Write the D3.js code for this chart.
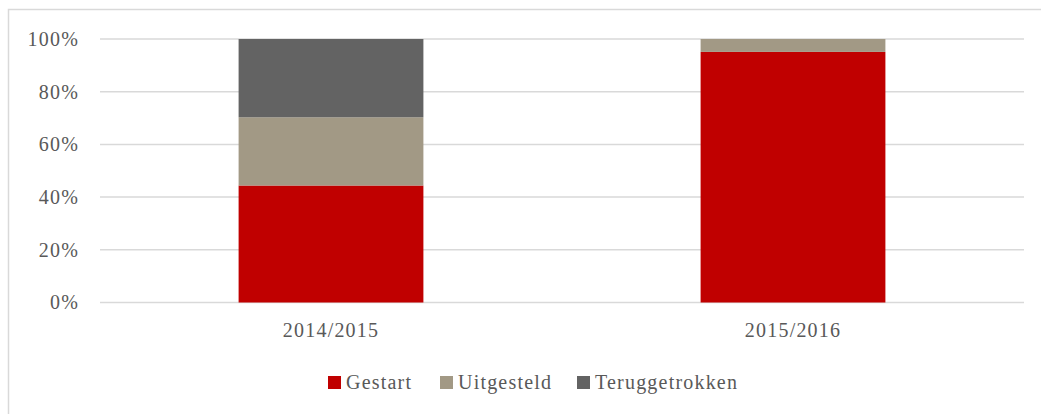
<!DOCTYPE html>
<html>
<head>
<meta charset="utf-8">
<script src="https://cdn.jsdelivr.net/npm/d3@7/dist/d3.min.js"></script>
<style>
  html, body { margin: 0; padding: 0; background: #fff; }
  svg { display: block; }
  text { font-family: "Liberation Serif", "Times New Roman", serif; fill: #595959; }
</style>
</head>
<body>
<svg id="chart" width="1041" height="414"></svg>
<script>
const categories = ["2014/2015", "2015/2016"];
const seriesNames = ["Gestart", "Uitgesteld", "Teruggetrokken"];
const gestart = [0.444, 0.951];
const uitgesteld = [0.259, 0.049];
const teruggetrokken = [0.297, 0.0];
const seriesColors = ["#c00000", "#a29985", "#636363"];
const yTicks = [0, 0.2, 0.4, 0.6, 0.8, 1.0];

const svg = d3.select("#chart");
const W = 1041, H = 414;
const margin = { left: 100, right: 17, top: 39, bottom: 111.5 };
const plotW = W - margin.left - margin.right;
const plotH = H - margin.top - margin.bottom;

// outer border (chart area)
svg.append("rect")
  .attr("x", 8.5).attr("y", 9.5)
  .attr("width", W + 10).attr("height", H + 10)
  .attr("fill", "none").attr("stroke", "#d9d9d9").attr("stroke-width", 1.5);

const g = svg.append("g").attr("transform", `translate(${margin.left},${margin.top})`);

const x = d3.scaleBand().domain(categories).range([0, plotW]).paddingInner(0.6).paddingOuter(0.3);
const y = d3.scaleLinear().domain([0, 1]).range([plotH, 0]);

// gridlines
g.append("g").selectAll("line").data(yTicks).join("line")
  .attr("x1", 0).attr("x2", plotW)
  .attr("y1", d => y(d)).attr("y2", d => y(d))
  .attr("stroke", "#d9d9d9").attr("stroke-width", 1.5);

// y axis labels
const yAxis = d3.axisLeft(y).tickValues(yTicks).tickFormat(d3.format(".0%")).tickSize(0).tickPadding(21);
const ya = g.append("g").call(yAxis);
ya.select(".domain").remove();
ya.selectAll("text").attr("font-size", 20).attr("letter-spacing", 1.2)
  .style("font-family", "'Liberation Serif', serif").attr("fill", "#595959");

// x axis labels
const xAxis = d3.axisBottom(x).tickSize(0).tickPadding(20);
const xa = g.append("g").attr("transform", `translate(0,${plotH})`).call(xAxis);
xa.select(".domain").remove();
xa.selectAll("text").attr("font-size", 20).attr("letter-spacing", 1.2)
  .style("font-family", "'Liberation Serif', serif").attr("fill", "#595959");

// stacked data
const rows = categories.map((c, i) => ({ cat: c, Gestart: gestart[i], Uitgesteld: uitgesteld[i], Teruggetrokken: teruggetrokken[i] }));
const stack = d3.stack().keys(seriesNames)(rows);
const color = d3.scaleOrdinal().domain(seriesNames).range(seriesColors);

g.append("g").selectAll("g").data(stack).join("g")
  .attr("fill", d => color(d.key))
  .selectAll("rect").data(d => d).join("rect")
  .attr("x", d => x(d.data.cat))
  .attr("width", x.bandwidth())
  .attr("y", d => y(d[1]))
  .attr("height", d => Math.max(0, y(d[0]) - y(d[1])));

// legend
const legendX = [328, 440, 577];
const legend = svg.append("g").attr("transform", "translate(0,376)");
seriesNames.forEach((name, i) => {
  legend.append("rect").attr("x", legendX[i]).attr("y", 0).attr("width", 13).attr("height", 13).attr("fill", seriesColors[i]);
  legend.append("text").attr("x", legendX[i] + 18).attr("y", 13)
    .attr("font-size", 20).attr("letter-spacing", 1.2).text(name);
});
</script>
</body>
</html>
